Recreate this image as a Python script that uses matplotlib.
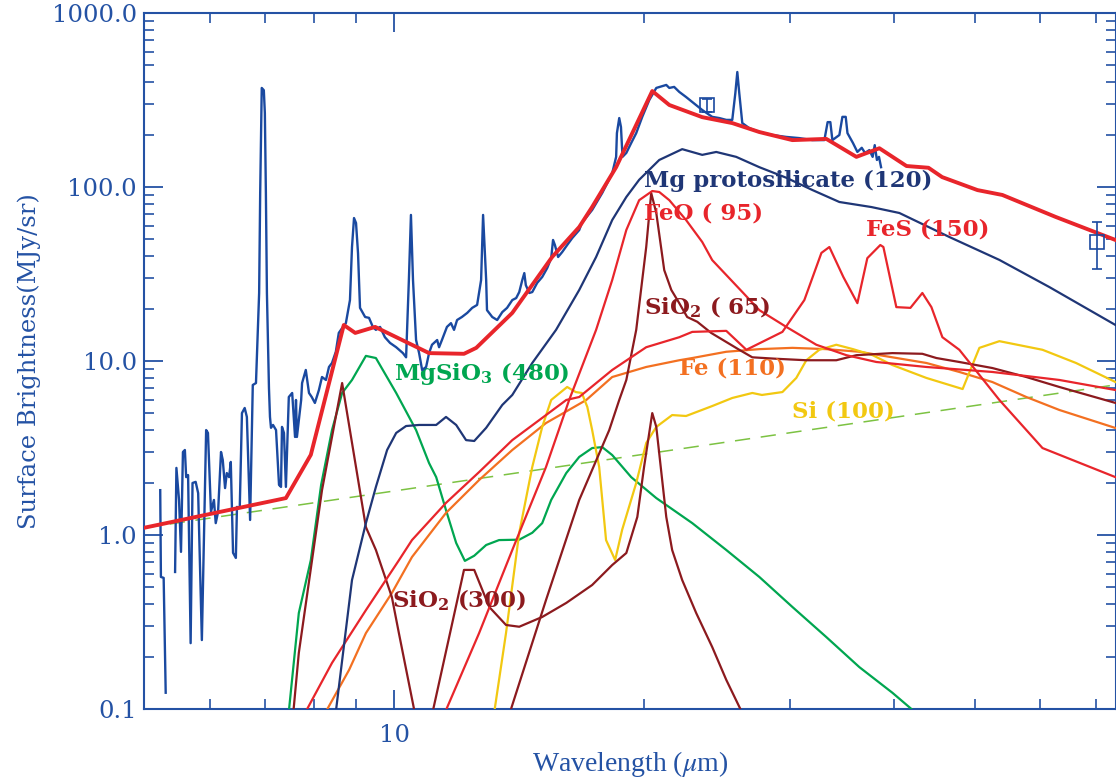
import matplotlib

matplotlib.use("Agg")

import matplotlib.pyplot as plt
import numpy as np
from matplotlib.ticker import FixedLocator, LogLocator, NullFormatter, FuncFormatter

# ---------------------------------------------------------------- data
# observed spectrum (micron, MJy/sr); NaN marks the gap in the data
spec_wave = [5.23, 5.24, 5.28, 5.31, np.nan, 5.45, 5.47, 5.51, 5.54, 5.57, 5.60, 5.62, 5.65, 5.69,
             5.72, 5.77, 5.81, 5.87, 5.94, 5.97, 6.02, 6.07, 6.10, 6.14, 6.19, 6.22, 6.26,
             6.29, 6.33, 6.36, 6.40, 6.45, 6.47, 6.52, 6.56, 6.61, 6.65, 6.71, 6.76, 6.82,
             6.84, 6.88, 6.90, 6.93, 6.97, 6.99, 7.01, 7.03, 7.07, 7.09, 7.11, 7.15, 7.21,
             7.27, 7.31, 7.33, 7.37, 7.41, 7.47, 7.54, 7.60, 7.62, 7.64, 7.73, 7.75, 7.83,
             7.90, 7.96, 8.03, 8.12, 8.19, 8.28, 8.35, 8.42, 8.51, 8.58, 8.68, 8.75, 8.85,
             8.90, 8.95, 9.00, 9.05, 9.10, 9.23, 9.33, 9.43, 9.51, 9.62, 9.75, 9.89, 10.06,
             10.25, 10.34, 10.42, 10.48, 10.54, 10.63, 10.72, 10.81, 10.93, 11.02, 11.11,
             11.27, 11.33, 11.42, 11.58, 11.71, 11.81, 11.91, 12.07, 12.25, 12.42, 12.59,
             12.73, 12.80, 12.91, 12.94, 13.13, 13.31, 13.50, 13.68, 13.88, 14.03, 14.15,
             14.27, 14.35, 14.41, 14.55, 14.67, 14.87, 15.08, 15.29, 15.46, 15.54, 15.62,
             15.76, 15.94, 16.16, 16.39, 16.71, 16.83, 17.32, 17.81, 18.31, 18.51, 18.55,
             18.67, 18.76, 18.84, 19.04, 19.30, 19.57, 19.90, 20.29, 20.69, 21.27, 21.45,
             21.74, 22.05, 22.47, 22.86, 23.50, 24.16, 24.64, 25.12, 25.54, 25.76, 25.90,
             26.04, 26.26, 26.77, 27.53, 28.53, 29.67, 30.76, 31.89, 32.97, 33.27, 33.52,
             33.71, 34.37, 34.66, 34.98, 35.15, 35.69, 36.13, 36.57, 36.90, 37.35, 37.69,
             37.91, 38.14, 38.36, 38.58]
spec_flux = [1.81, 0.574, 0.567, 0.124, np.nan, 0.613, 2.43, 1.59, 0.80, 3.0, 3.08, 2.15, 2.21, 0.239,
             1.99, 2.02, 1.74, 0.249, 4.01, 3.86, 1.36, 1.59, 1.17, 1.36, 3.0, 2.70, 1.86,
             2.27, 2.15, 2.63, 0.79, 0.738, 1.45, 1.43, 5.02, 5.37, 4.77, 1.22, 7.28, 7.47,
             11.1, 24.6, 92.4, 371, 360, 266, 92.4, 24.6, 7.0, 4.77, 4.13, 4.29, 4.01,
             1.94, 1.89, 4.18, 3.86, 1.89, 6.21, 6.55, 3.66, 5.97, 3.66, 5.97, 7.47, 8.88,
             6.55, 6.21, 5.74, 6.81, 8.09, 7.78, 9.24, 9.74, 11.3, 14.5, 15.7, 16.5, 22.4,
             45.2, 66.3, 62.1, 41.6, 20.2, 17.9, 17.7, 15.7, 15.1, 15.7, 13.7, 12.7, 12.0,
             11.1, 10.5, 29.2, 69.1, 29.2, 13.2, 11.1, 8.88, 9.24, 11.1, 12.4,
             13.2, 12.0, 13.2, 15.7, 16.5, 15.1, 17.2, 17.9, 18.9, 20.2, 21.0,
             29.2, 69.1, 29.2, 19.6, 17.9, 17.2, 19.1, 20.2, 22.4, 23.0, 24.9,
             29.2, 32.0, 27.3, 24.6, 24.9, 28.1, 30.4, 34.2, 39.0, 49.6, 46.4,
             39.6, 42.3, 46.4, 50.9, 56.6, 62.1, 73.8, 92.4, 120, 149, 204,
             249, 221, 149, 157, 179, 204, 253, 316, 371, 386, 371,
             376, 352, 329, 308, 277, 253, 249, 243, 243, 347, 458,
             347, 233, 218, 207, 199, 194, 191, 186, 186, 236, 236,
             186, 199, 253, 253, 204, 179, 159, 168, 157, 163, 149,
             174, 143, 149, 130]

# broadband photometry (MIPS 24 and 70)
phot_wave = [23.84, 70.3]
phot_flux = [296, 48.3]
phot_err = [25, 14.5]

# total model
model_wave = [5.0, 7.41, 7.94, 8.70, 8.98, 9.49, 11.02, 12.14, 12.56, 13.88, 15.50, 16.71,
              17.32, 18.51, 20.46, 21.45, 23.50, 25.54, 27.53, 30.17, 33.15, 36.03, 38.40,
              41.40, 44.0, 45.7, 50.4, 54.0, 62.6, 73.9]
model_flux = [1.10, 1.63, 2.89, 16.1, 14.5, 15.7, 11.1, 11.0, 11.9, 18.9, 39.6, 58.9,
              76.8, 130, 356, 296, 252, 233, 207, 186, 189, 149, 167,
              132, 129, 114, 96, 90, 67.3, 49.6]

# continuum (power law)
cont_wave = [5.0, 74.0]
cont_flux = [1.10, 7.3]

mgproto_wave = [8.40, 8.90, 9.25, 9.51, 9.81, 10.06, 10.34, 10.72, 11.24, 11.55, 11.88, 12.21,
                12.49, 12.91, 13.50, 13.88, 14.67, 15.67, 16.71, 17.51, 18.31, 19.04, 19.73,
                20.86, 22.23, 23.50, 24.43, 25.82, 27.53, 29.67, 31.89, 34.37, 37.56, 40.59,
                46.62, 53.56, 61.52, 73.9]
mgproto_flux = [0.058, 0.551, 1.17, 1.89, 3.08, 3.86, 4.23, 4.29, 4.29, 4.77, 4.29, 3.51,
                3.47, 4.13, 5.59, 6.38, 9.74, 15.1, 25.6, 39.6, 64.6, 87.6, 110,
                143, 165, 153, 159, 149, 130, 113, 96.1, 82.0, 76.7, 70.9,
                51.6, 38.1, 26.6, 16.1]

feo_wave = [11.14, 12.66, 13.88, 15.24, 16.25, 17.51, 18.31, 19.04, 19.73, 20.46, 20.86,
            21.45, 22.47, 23.50, 24.16, 26.33, 27.53, 29.67, 32.24, 35.04, 38.08, 43.75,
            52.53, 63.25, 73.9]
feo_flux = [0.066, 0.273, 0.82, 2.46, 5.97, 15.1, 29.2, 56.6, 84, 94.8, 93.6,
            84, 64.6, 48.3, 38.0, 24.6, 19.6, 15.7, 12.4, 10.8, 9.87, 9.24,
            8.65, 7.78, 6.81]

fes_wave = [7.62, 8.42, 9.25, 10.14, 10.51, 11.55, 12.66, 13.88, 15.24, 16.12, 16.71, 18.31,
            20.12, 22.05, 22.86, 25.12, 26.56, 29.35, 31.19, 32.70, 33.43, 34.75, 36.13,
            37.14, 38.50, 38.83, 40.25, 41.85, 43.26, 44.36, 45.73, 47.93, 53.56, 60.36,
            73.9]
fes_flux = [0.076, 0.184, 0.37, 0.718, 0.935, 1.53, 2.30, 3.51, 4.89, 5.97, 6.21, 8.88,
            12.0, 13.7, 14.7, 14.9, 11.6, 14.7, 22.4, 41.8, 45.2, 30.4, 21.5,
            39.0, 46.4, 45.2, 20.4, 20.2, 24.6, 20.4, 13.7, 11.6, 5.97, 3.16,
            2.15]

sio2_65_wave = [13.45, 15.24, 16.71, 18.16, 18.67, 19.04, 19.57, 20.12, 20.40, 20.69, 21.15,
                21.57, 22.05, 22.54, 23.18, 24.09, 26.04, 27.0, 28.85, 31.36, 34.08, 36.03,
                39.81, 43.26, 44.98, 47.93, 52.53, 57.71, 63.25, 73.9]
sio2_65_flux = [0.066, 0.423, 1.59, 4.01, 5.97, 7.78, 15.1, 45.2, 92.4, 70.9, 33.3,
                25.6, 21.5, 17.9, 16.8, 14.5, 11.6, 10.5, 10.3, 10.1, 10.1, 10.8,
                11.1, 11.0, 10.4, 9.87, 9.11, 8.09, 7.09, 5.74]

sio2_300_wave = [7.51, 7.68, 8.19, 8.66, 9.25, 9.51, 9.94, 10.14, 10.57, 10.87, 11.15, 12.14,
                 12.49, 13.02, 13.64, 14.15, 15.08, 16.12, 17.32, 18.31, 19.04, 19.63, 20.0,
                 20.46, 20.69, 21.27, 21.62, 22.23, 23.11, 24.16, 25.12, 26.12, 27.15]
sio2_300_flux = [0.066, 0.21, 1.81, 7.47, 1.11, 0.82, 0.44, 0.27, 0.1, 0.05, 0.1, 0.63,
                 0.63, 0.386, 0.304, 0.297, 0.338, 0.407, 0.516, 0.672, 0.788, 1.27, 2.46,
                 5.02, 4.18, 1.27, 0.82, 0.551, 0.356, 0.227, 0.147, 0.1, 0.066]

mgsio3_wave = [7.41, 7.68, 7.94, 8.17, 8.42, 8.66, 8.90, 9.25, 9.51, 10.06, 10.63, 11.02,
               11.24, 11.55, 11.88, 12.17, 12.49, 12.91, 13.38, 14.15, 14.67, 15.08, 15.46,
               16.12, 16.71, 17.32, 17.81, 18.31, 19.30, 20.69, 22.86, 25.12, 27.53, 30.17,
               33.15, 36.33, 39.81, 41.97, 45.35]
mgsio3_flux = [0.066, 0.356, 0.718, 1.94, 4.01, 6.55, 7.78, 10.7, 10.4, 6.55, 4.01, 2.59,
               2.15, 1.39, 0.90, 0.71, 0.76, 0.876, 0.935, 0.94, 1.03, 1.17, 1.59,
               2.27, 2.81, 3.16, 3.2, 2.88, 2.15, 1.63, 1.17, 0.82, 0.574, 0.386,
               0.259, 0.174, 0.124, 0.1, 0.071]

fe_wave = [7.92, 8.83, 9.25, 9.94, 10.51, 11.55, 12.66, 13.88, 15.24, 17.04, 18.31, 20.12,
           22.05, 22.86, 25.12, 27.53, 30.17, 33.15, 36.33, 39.81, 43.75, 47.93, 52.53,
           57.71, 63.25, 73.9]
fe_flux = [0.066, 0.168, 0.273, 0.464, 0.747, 1.34, 2.07, 3.08, 4.40, 5.97, 8.09, 9.24,
           10.1, 10.4, 11.3, 11.7, 11.9, 11.7, 11.3, 10.5, 9.74, 8.65, 7.57,
           6.21, 5.23, 4.12]

si_wave = [13.05, 13.64, 14.15, 14.67, 15.08, 15.46, 16.16, 16.55, 16.83, 17.09, 17.32, 17.66,
           18.0, 18.46, 18.82, 19.57, 20.12, 20.69, 21.62, 22.47, 24.16, 25.54, 27.0,
           27.73, 29.35, 30.5, 31.36, 32.51, 34.08, 35.69, 37.69, 39.81, 43.75, 48.37,
           50.67, 53.56, 60.36, 66.24, 73.9]
si_flux = [0.066, 0.273, 1.03, 2.46, 4.18, 5.97, 7.09, 6.63, 6.55, 5.44, 4.01, 2.46,
           0.935, 0.718, 1.07, 1.99, 3.38, 4.18, 4.89, 4.83, 5.51, 6.13, 6.55,
           6.38, 6.63, 7.99, 10.1, 11.6, 12.4, 11.7, 10.8, 9.48, 7.99, 6.90,
           11.9, 13.0, 11.6, 9.74, 7.57]

# ---------------------------------------------------------------- style
AXIS_BLUE = "#2452a4"
SPEC_BLUE = "#1a49a0"
RED = "#e8252b"
NAVY = "#1f3676"
DARK_RED = "#8c1a1e"
GREEN = "#00a650"
ORANGE = "#f37021"
YELLOW = "#f2c811"
LIGHT_GREEN = "#7cc242"

plt.rcParams["font.family"] = ["DejaVu Serif", "DejaVu Sans"]

fig = plt.figure(figsize=(11.16, 7.78), dpi=100)
ax = fig.add_axes([144 / 1116, 69 / 778, 972 / 1116, 696 / 778])

ax.plot(cont_wave, cont_flux, color=LIGHT_GREEN, lw=1.1, dashes=(10, 7), zorder=2)
ax.plot(mgsio3_wave, mgsio3_flux, color=GREEN, lw=1.6, zorder=3)
ax.plot(fe_wave, fe_flux, color=ORANGE, lw=1.6, zorder=3)
ax.plot(si_wave, si_flux, color=YELLOW, lw=1.6, zorder=3)
ax.plot(sio2_300_wave, sio2_300_flux, color=DARK_RED, lw=1.6, zorder=3)
ax.plot(sio2_65_wave, sio2_65_flux, color=DARK_RED, lw=1.6, zorder=3)
ax.plot(fes_wave, fes_flux, color=RED, lw=1.6, zorder=3)
ax.plot(feo_wave, feo_flux, color=RED, lw=1.6, zorder=3)
ax.plot(mgproto_wave, mgproto_flux, color=NAVY, lw=1.6, zorder=3)
ax.plot(spec_wave, spec_flux, color=SPEC_BLUE, lw=1.7, zorder=4)
ax.plot(model_wave, model_flux, color=RED, lw=2.8, zorder=5)
ax.errorbar(phot_wave, phot_flux, yerr=phot_err, fmt="s", ms=10, mfc="none", mec=SPEC_BLUE,
            mew=1.2, ecolor=SPEC_BLUE, elinewidth=1.2, capsize=3.5, zorder=6)

ax.set_xscale("log")
ax.set_yscale("log")
ax.set_xlim(5, 74)
ax.set_ylim(0.1, 1000)

ax.xaxis.set_major_locator(FixedLocator([10]))
ax.xaxis.set_minor_locator(LogLocator(base=10, subs=np.arange(2, 10)))
ax.xaxis.set_minor_formatter(NullFormatter())
ax.xaxis.set_major_formatter(FuncFormatter(lambda v, p: f"{v:.0f}"))
ax.yaxis.set_major_locator(LogLocator(base=10))
ax.yaxis.set_minor_locator(LogLocator(base=10, subs=np.arange(2, 10)))
ax.yaxis.set_minor_formatter(NullFormatter())
ax.yaxis.set_major_formatter(FuncFormatter(lambda v, p: f"{v:.1f}"))

ax.tick_params(which="both", direction="in", top=True, right=True, color=AXIS_BLUE,
               labelcolor=AXIS_BLUE, labelsize=17.5)
ax.tick_params(which="major", length=14, width=1.3)
ax.tick_params(which="minor", length=7, width=1.2)
ax.tick_params(axis="x", pad=11)
ax.tick_params(axis="y", pad=5)
for spine in ax.spines.values():
    spine.set_color(AXIS_BLUE)
    spine.set_linewidth(1.5)

ax.set_ylabel("Surface Brightness(MJy/sr)", color=AXIS_BLUE, fontsize=17.5, labelpad=8)
ax.set_xlabel(r"Wavelength ($\mu$m)", color=AXIS_BLUE, fontsize=20, labelpad=1,
              family="Liberation Serif", math_fontfamily="stix")

label_kw = dict(fontsize=16.5, fontweight="bold", va="center", ha="left",
                math_fontfamily="dejavuserif")
ax.text(20.0, 108, "Mg protosilicate (120)", color=NAVY, **label_kw)
ax.text(20.0, 70, "FeO ( 95)", color=RED, **label_kw)
ax.text(37.0, 57, "FeS (150)", color=RED, **label_kw)
ax.text(20.0, 20.4, r"SiO$_\mathbf{2}$ ( 65)", color=DARK_RED, **label_kw)
ax.text(10.0, 8.5, r"MgSiO$_\mathbf{3}$ (480)", color=GREEN, **label_kw)
ax.text(22.05, 9.1, "Fe (110)", color=ORANGE, **label_kw)
ax.text(30.1, 5.1, "Si (100)", color=YELLOW, **label_kw)
ax.text(9.94, 0.42, r"SiO$_\mathbf{2}$ (300)", color=DARK_RED, **label_kw)

fig.savefig("out.png", dpi=100)
